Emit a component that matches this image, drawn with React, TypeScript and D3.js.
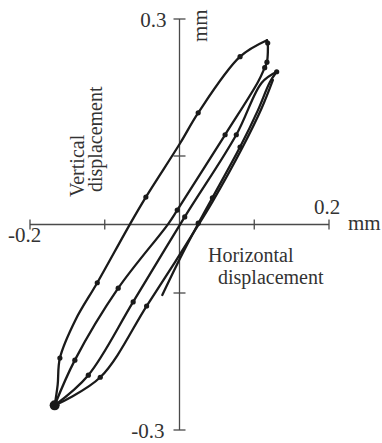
import * as d3 from 'd3'

// loop legs, [horizontal mm, vertical mm]
const legStart: [number, number][] = [
  [-0.023, -0.103], [0.001, -0.049], [0.025, 0.001], [0.044, 0.039],
  [0.081, 0.113], [0.105, 0.167], [0.121, 0.208], [0.13, 0.223],
]
const legDownInner: [number, number][] = [
  [0.13, 0.223], [0.11, 0.207], [0.076, 0.131], [0.007, 0.011],
  [-0.062, -0.113], [-0.122, -0.22], [-0.167, -0.264],
]
const legUpOuter: [number, number][] = [
  [-0.167, -0.264], [-0.163, -0.234], [-0.16, -0.195], [-0.139, -0.139],
  [-0.11, -0.085], [-0.066, 0.001], [-0.045, 0.04], [0.001, 0.119],
  [0.025, 0.163], [0.081, 0.245], [0.117, 0.269],
]
const legDownMiddle: [number, number][] = [
  [0.117, 0.269], [0.118, 0.265], [0.117, 0.237], [0.114, 0.229],
  [0.105, 0.208], [0.061, 0.131], [-0.003, 0.021], [-0.015, 0.001],
  [-0.082, -0.093], [-0.14, -0.198], [-0.167, -0.264],
]
const legUpLast: [number, number][] = [
  [-0.167, -0.264], [-0.106, -0.223], [-0.044, -0.119], [-0.006, -0.055],
  [0.021, -0.008], [0.044, 0.033], [0.084, 0.112], [0.11, 0.17], [0.125, 0.211],
]
const legs = [legStart, legDownInner, legUpOuter, legDownMiddle, legUpLast]

const markers: [number, number][] = [
  [0.081, 0.245], [0.025, 0.163], [-0.045, 0.04], [-0.11, -0.085], [-0.16, -0.195],
  [0.061, 0.131], [-0.003, 0.021], [-0.082, -0.093], [-0.14, -0.198],
  [0.076, 0.131], [0.007, 0.011], [-0.062, -0.113], [-0.122, -0.22],
  [0.081, 0.113], [0.044, 0.039], [0.025, 0.002], [-0.044, -0.119], [-0.106, -0.223],
  [0.118, 0.265], [0.117, 0.237], [0.114, 0.229], [0.13, 0.223],
]
const turnPoint: [number, number] = [-0.167, -0.264]

const xTicks = [-0.2, -0.1, 0, 0.1, 0.2]
const yTicks = [-0.3, -0.1, 0.1, 0.3]

const W = 382
const H = 443
const FONT = "'Liberation Serif', 'Times New Roman', serif"
const INK = '#1a1a1a'
const AXIS = '#4a4a4a'
const TEXT = '#333'

export default function App() {
  const x = d3.scaleLinear().domain([-0.2, 0.2]).range([30, 329])
  const y = d3.scaleLinear().domain([-0.3, 0.3]).range([430, 19])
  const line = d3.line<[number, number]>()
    .x((d) => x(d[0]))
    .y((d) => y(d[1]))
    .curve(d3.curveCatmullRom.alpha(0.5))

  const x0 = x(0)
  const y0 = y(0)

  return (
    <div style={{ position: 'fixed', left: 0, top: 0, width: W, height: H, background: '#fff' }}>
      <svg width={W} height={H} style={{ display: 'block' }} fontFamily={FONT}>
        {/* axes */}
        <g stroke={AXIS} strokeWidth={1.3} fill="none">
          <line x1={x(-0.2)} x2={x(0.2)} y1={y0} y2={y0} />
          <line x1={x0} x2={x0} y1={y(0.3)} y2={y(-0.3)} />
          {xTicks.filter((t) => t !== 0).map((t) => (
            <line key={'xt' + t} x1={x(t)} x2={x(t)} y1={y0 - 5} y2={y0 + 5} />
          ))}
          {yTicks.map((t) => (
            <line key={'yt' + t} x1={x0 - 6} x2={x0 + 6} y1={y(t)} y2={y(t)} />
          ))}
        </g>

        {/* loop */}
        <g fill="none" stroke={INK} strokeWidth={2.3} strokeLinejoin="round" strokeLinecap="round">
          {legs.map((leg, i) => (
            <path key={i} d={line(leg) ?? ''} />
          ))}
        </g>
        <g fill={INK}>
          {markers.map((m, i) => (
            <circle key={i} cx={x(m[0])} cy={y(m[1])} r={2.6} />
          ))}
          <circle cx={x(turnPoint[0])} cy={y(turnPoint[1])} r={5} />
        </g>

        {/* labels */}
        <g fill={TEXT} fontSize={21}>
          <text x={x0 - 13} y={27} textAnchor="end">0.3</text>
          <text x={x0 - 15} y={438} textAnchor="end">-0.3</text>
          <text x={8} y={242}>-0.2</text>
          <text x={314} y={214}>0.2</text>
          <text x={348} y={230}>mm</text>
          <text transform="translate(207,42) rotate(-90)">mm</text>
        </g>
        <g fill={TEXT} fontSize={20}>
          <text transform="translate(84,197) rotate(-90)">Vertical</text>
          <text transform="translate(102,192) rotate(-90)">displacement</text>
          <text x={208} y={262}>Horizontal</text>
          <text x={218} y={284}>displacement</text>
        </g>
      </svg>
    </div>
  )
}
